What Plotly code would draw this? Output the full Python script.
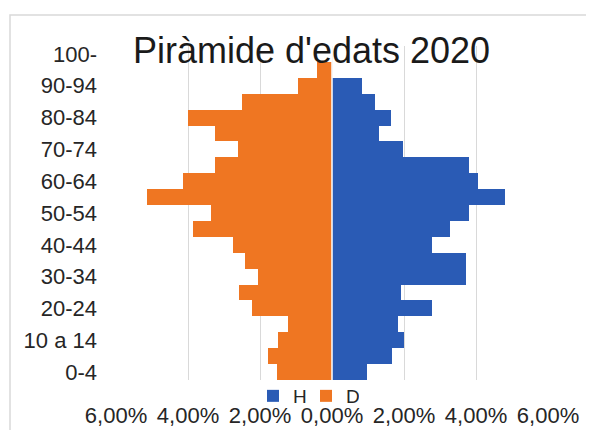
import plotly.graph_objects as go

categories = ["0-4", "5-9", "10 a 14", "15-19", "20-24", "25-29", "30-34", "35-39",
              "40-44", "45-49", "50-54", "55-59", "60-64", "65-69", "70-74", "75-79",
              "80-84", "85-89", "90-94", "95-99", "100-"]
homes = [0.97, 1.67, 2.00, 1.83, 2.78, 1.92, 3.72, 3.72, 2.78, 3.28, 3.80,
         4.80, 4.05, 3.80, 1.97, 1.30, 1.65, 1.20, 0.83, 0.00, 0.00]
dones = [1.53, 1.78, 1.50, 1.22, 2.22, 2.58, 2.06, 2.42, 2.75, 3.85, 3.35,
         5.15, 4.15, 3.25, 2.60, 3.25, 4.00, 2.50, 0.95, 0.42, 0.00]
x_ticks = [-6, -4, -2, 0, 2, 4, 6]
y_ticks = categories[::2]
title_text = "Piràmide d'edats 2020"

x_ticktext = [f"{abs(v):.2f}%".replace(".", ",") for v in x_ticks]

# the page body has an 8px margin; lay out in page pixels minus that offset
OFF = 8
W, H = 594 - OFF, 430 - OFF
L, T = 116 - OFF, 46 - OFF
R, B = 594 - 548, 430 - 380
pw, ph = W - L - R, H - T - B


def px_x(p):
    return (p - OFF - L) / pw


def px_y(p):
    return 1 - (p - OFF - T) / ph


fig = go.Figure()
fig.add_trace(go.Bar(y=categories, x=homes, orientation="h", name="H",
                     marker=dict(color="#2A5BB5", line=dict(width=0))))
fig.add_trace(go.Bar(y=categories, x=[-v for v in dones], orientation="h", name="D",
                     marker=dict(color="#EF7622", line=dict(width=0))))

font_family = "Liberation Sans, Arial, sans-serif"

fig.update_layout(
    width=W, height=H,
    margin=dict(l=L, r=R, t=T, b=B, autoexpand=False),
    paper_bgcolor="white", plot_bgcolor="white",
    barmode="relative", bargap=0,
    font=dict(family=font_family, color="#262626"),
    xaxis=dict(range=[-6, 6], tickvals=x_ticks, ticktext=x_ticktext,
               showgrid=True, gridcolor="#D9D9D9", gridwidth=1,
               zeroline=False, showline=False, ticks="",
               tickfont=dict(size=22, color="#262626"),
               ticklabelstandoff=20, fixedrange=True, automargin=False),
    yaxis=dict(type="category", categoryorder="array", categoryarray=categories,
               range=[-0.5, 20.5], tickvals=y_ticks, ticktext=y_ticks,
               showgrid=False, zeroline=False, showline=False, ticks="",
               tickfont=dict(size=22, color="#262626"),
               ticklabelstandoff=18, fixedrange=True, automargin=False),
    legend=dict(orientation="h", x=px_x(306), xanchor="center",
                y=px_y(396), yanchor="middle",
                bgcolor="rgba(0,0,0,0)", font=dict(size=19, color="#262626"),
                itemwidth=30, entrywidth=8, entrywidthmode="pixels",
                traceorder="normal"),
    showlegend=True,
)

fig.add_annotation(text=title_text, xref="paper", yref="paper",
                   x=px_x(311), y=px_y(51),
                   xanchor="center", yanchor="middle", showarrow=False,
                   font=dict(size=36, color="#1A1A1A", family=font_family))

# white separator at zero
fig.add_shape(type="line", xref="x", yref="paper", x0=0, x1=0, y0=0, y1=1,
              line=dict(color="white", width=1.5), layer="above")

# outer chart frame
fig.add_shape(type="rect", xref="paper", yref="paper",
              x0=px_x(10), x1=px_x(620),
              y0=px_y(460), y1=px_y(15),
              line=dict(color="#D9D9D9", width=1.5), fillcolor="rgba(0,0,0,0)",
              layer="below")

fig.write_html("out.html")
